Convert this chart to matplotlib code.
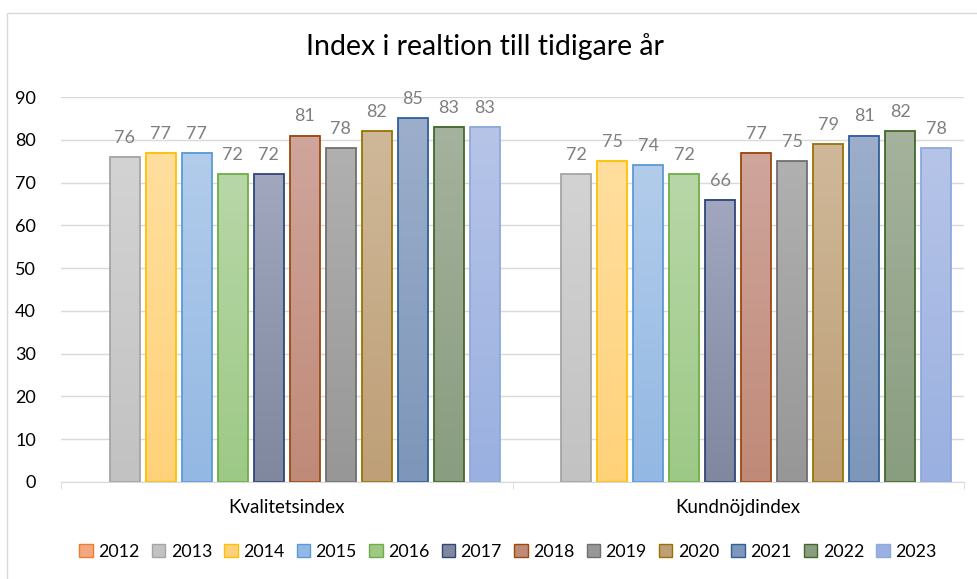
import numpy as np
import matplotlib.pyplot as plt
from matplotlib.patches import Patch, Rectangle
from matplotlib.colors import to_rgb

plt.rcParams['font.family'] = ['Lato', 'DejaVu Sans']

categories = ['Kvalitetsindex', 'Kundnöjdindex']
years = ['2012', '2013', '2014', '2015', '2016', '2017',
         '2018', '2019', '2020', '2021', '2022', '2023']
# 2012 has no values in the chart
values = {
    '2012': [None, None],
    '2013': [76, 72],
    '2014': [77, 75],
    '2015': [77, 74],
    '2016': [72, 72],
    '2017': [72, 66],
    '2018': [81, 77],
    '2019': [78, 75],
    '2020': [82, 79],
    '2021': [85, 81],
    '2022': [83, 82],
    '2023': [83, 78],
}
yticks = [0, 10, 20, 30, 40, 50, 60, 70, 80, 90]

# (top colour, bottom colour, edge colour)
colors = {
    '2012': ('#F8C2A6', '#F4A882', '#ED7D31'),
    '2013': ('#D3D3D3', '#C2C2C2', '#A5A5A5'),
    '2014': ('#FFDE9E', '#FFD27A', '#FFC000'),
    '2015': ('#B2CCEB', '#93B8E3', '#5B9BD5'),
    '2016': ('#B8D7A8', '#9DC986', '#70AD47'),
    '2017': ('#A0A7BF', '#7F889F', '#2F4678'),
    '2018': ('#CFA59C', '#C08A78', '#9E480E'),
    '2019': ('#B0B0B0', '#979797', '#6F6F6F'),
    '2020': ('#CFB899', '#BE9F77', '#997300'),
    '2021': ('#9CAECB', '#7D96B9', '#2F5F98'),
    '2022': ('#A5B29D', '#899D7F', '#43682B'),
    '2023': ('#B6C4E8', '#9AB0E0', '#8EA9DB'),
}

fig = plt.figure(figsize=(9.77, 5.79), dpi=100)
ax = fig.add_axes([61 / 977, 1 - 482 / 579, 903 / 977, 385 / 579])

# chart area border
fig.patches.append(Rectangle((6.5 / 977, -0.1), 1.1, 1 - 13 / 579 + 0.1,
                             transform=fig.transFigure, fill=False,
                             edgecolor='#D9D9D9', linewidth=1.0))

pitch = 36 / 451.5
width = 30 / 451.5
x = np.arange(len(categories))

for i, yr in enumerate(years):
    top, bot, edge = colors[yr]
    for j, v in enumerate(values[yr]):
        if v is None:
            continue
        x0 = x[j] + (i - 5.5) * pitch - width / 2
        grad = np.linspace(0, 1, 64)[:, None, None]
        img = np.array(to_rgb(top)) * (1 - grad) + np.array(to_rgb(bot)) * grad
        ax.imshow(img, extent=(x0, x0 + width, 0, v), aspect='auto',
                  origin='upper', zorder=2, interpolation='bilinear')
        ax.add_patch(Rectangle((x0, 0), width, v, fill=False,
                               edgecolor=edge, linewidth=1.3, zorder=3))
        ax.annotate(str(v), (x0 + width / 2, v), xytext=(0, 8),
                    textcoords='offset points', ha='center', va='bottom',
                    fontsize=13, color='#7F7F7F')

ax.set_xlim(-0.5, 1.5)
ax.set_ylim(0, 90)
ax.set_yticks(yticks)
ax.set_xticks(x)
ax.set_xticklabels(categories, fontsize=13.5)
ax.set_xticks([-0.5, 0.5, 1.5], minor=True)
ax.tick_params(axis='x', which='major', length=0, pad=12)
ax.tick_params(axis='x', which='minor', length=5, color='#D9D9D9')
ax.tick_params(axis='y', length=0, labelsize=13, pad=18)
ax.grid(axis='y', color='#D9D9D9', linewidth=1.0, zorder=0)
ax.set_axisbelow(True)
for s in ['top', 'right', 'left']:
    ax.spines[s].set_visible(False)
ax.spines['bottom'].set_color('#D9D9D9')
ax.spines['bottom'].set_zorder(4)

fig.text(485 / 977, 1 - 47 / 579, 'Index i realtion till tidigare år',
         ha='center', va='center', fontsize=20.5)

handles = [Patch(facecolor=colors[yr][1], edgecolor=colors[yr][2],
                 label=yr) for yr in years]
fig.legend(handles=handles, loc='center', bbox_to_anchor=(508 / 977, 1 - 552 / 579),
           ncol=12, frameon=False, fontsize=12.8, handlelength=0.75,
           handleheight=0.75, handletextpad=0.3, columnspacing=0.7)

fig.savefig('out.png', dpi=100)
